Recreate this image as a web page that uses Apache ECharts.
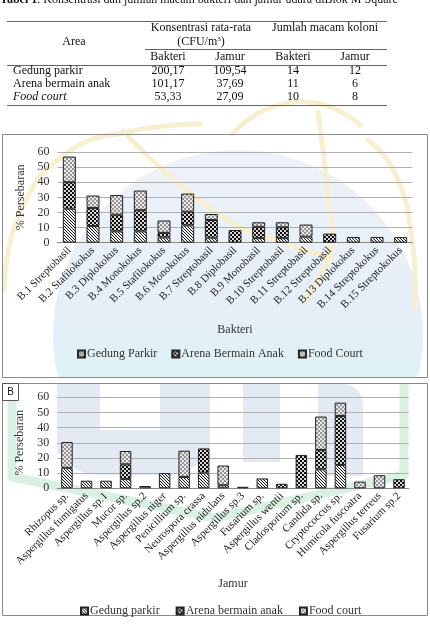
<!DOCTYPE html>
<html><head><meta charset="utf-8">
<script src="https://cdn.jsdelivr.net/npm/echarts@6/dist/echarts.min.js"></script>
<style>html,body{margin:0;padding:0;background:#fff}#c{width:430px;height:628px}</style>
</head><body><div id="c"></div>
<script>
// ---- Table data ----
const tableAreas = ['Gedung parkir', 'Arena bermain anak', 'Food court'];
const konsBakteri = ['200,17', '101,17', '53,33'];
const konsJamur = ['109,54', '37,69', '27,09'];
const jmlBakteri = ['14', '11', '10'];
const jmlJamur = ['12', '6', '8'];

// ---- Chart A (Bakteri) ----
const bakteriCats = ['B.1 Streptobasil','B.2 Stafilokokus','B.3 Diplokokus','B.4 Monokokus','B.5 Stafilokokus','B.6 Monokokus','B.7 Streptobasil','B.8 Diplobasil','B.9 Monobasil','B.10 Streptobasil','B.11 Streptobasil','B.12 Streptobasil','B.13 Diplokokus','B.14 Streptokokus','B.15 Streptokokus'];
const bakGedung = [22.5, 11, 7.5, 7.5, 3.5, 11.5, 3.3, 0, 3, 3, 4, 0, 3.8, 3.8, 3.7];
const bakArena  = [17.5, 12, 11, 14, 3, 9, 11.7, 8.4, 7.5, 7.2, 0, 6, 0, 0, 0];
const bakFood   = [17, 8.2, 13, 13, 8.2, 12, 4, 0, 3, 3.3, 8, 0, 0, 0, 0];

// ---- Chart B (Jamur) ----
const jamurCats = ['Rhizopus sp.','Aspergillus fumigatus','Aspergillus sp.1','Mucor sp.','Aspergillus sp.2','Aspergillus niger','Penicillium sp.','Neurospora crassa','Aspergillus nidulans','Aspergillus sp.3','Fusarium sp.','Aspergillus wentii','Cladosporium sp.','Candida sp.','Cryptococcus sp.','Humicola fuscoatra','Aspergillus terreus','Fusarium sp.2'];
const jamGedung = [13.5, 5, 5, 6.2, 1.5, 10, 7.5, 10.3, 2, 1, 6.5, 0, 0, 12.5, 15.4, 0, 0, 0];
const jamArena  = [0, 0, 0, 9.6, 0, 0, 0, 16, 0, 0, 0, 3, 22, 12.8, 32.3, 0, 0, 6];
const jamFood   = [17, 0, 0, 8.8, 0, 0, 17.3, 0, 13, 0, 0, 0, 0, 22, 8.8, 4.4, 8.6, 0];

const yTicks = [0, 10, 20, 30, 40, 50, 60];
const legendA = ['Gedung Parkir', 'Arena Bermain Anak', 'Food Court'];
const legendB = ['Gedung parkir', 'Arena bermain anak', 'Food court'];

const FONT = 'Liberation Serif';

function makePattern(kind) {
  const n = kind === 'hatch' ? 3 : 4;
  const c = document.createElement('canvas');
  c.width = n; c.height = n;
  const ctx = c.getContext('2d');
  const img = ctx.createImageData(n, n);
  for (let y = 0; y < n; y++) for (let x = 0; x < n; x++) {
    let v;
    if (kind === 'hatch') v = ((x - y + 30) % 3 === 0) ? 30 : 240;
    else if (kind === 'check') v = (((x >> 1) + (y >> 1)) % 2 === 0) ? 15 : 215;
    else v = (((x >> 1) + (y >> 1)) % 2 === 0) ? 150 : 232;
    const i = (y * n + x) * 4;
    img.data[i] = v; img.data[i + 1] = v; img.data[i + 2] = v; img.data[i + 3] = 255;
  }
  ctx.putImageData(img, 0, 0);
  return { image: c, repeat: 'repeat' };
}
const pHatch = makePattern('hatch');
const pCheck = makePattern('check');
const pDot = makePattern('dot');

const clean = arr => arr.map(v => v ? v : '-');

function barSeries(name, data, pat, xi, stack, bw) {
  return {
    type: 'bar', name, data: clean(data), stack, xAxisIndex: xi, yAxisIndex: xi,
    barWidth: bw, itemStyle: { color: pat, borderColor: '#222', borderWidth: 1 },
    emphasis: { disabled: true }, animation: false
  };
}

const g = [];

// ---- faint watermark (background decoration) ----
(function () {
  const pts = [];
  const cx = 238, cy = 335, r = 185;
  for (let i = 0; i <= 120; i++) {
    const t = i / 120 * Math.PI * 2;
    let x = cx + r * Math.cos(t), y = cy + r * Math.sin(t);
    y = Math.min(Math.max(y, 135), 377);
    x = Math.min(Math.max(x, 3), 427);
    pts.push([x, y]);
  }
  g.push({ type: 'polygon', z: -20, shape: { points: pts }, style: {
    fill: new echarts.graphic.LinearGradient(0, 0, 0, 1, [{ offset: 0, color: '#eef2f9' }, { offset: 0.75, color: '#e6eef7' }, { offset: 1, color: '#dcf3f4' }]) } });
  const yel = { fill: 'none', stroke: '#f6f0d0', lineWidth: 5, lineCap: 'round' };
  const arcs = [
    [[4, 290], [20, 213], [67, 153], [133, 131], [200, 124]],
    [[123, 131], [217, 213], [290, 245], [332, 257]],
    [[318, 112], [328, 197], [330, 250], [305, 300]],
    [[368, 140], [395, 173], [412, 240], [415, 307]],
    [[232, 134], [270, 108], [320, 104], [360, 125]]
  ];
  arcs.forEach(p => g.push({ type: 'polyline', z: -19, shape: { points: p, smooth: 0.5 }, style: yel }));
  // chart B letter blocks
  const blk = '#e4eaf3';
  g.push({ type: 'rect', z: -20, shape: { x: 57, y: 384, width: 43, height: 70 }, style: { fill: blk } });
  g.push({ type: 'rect', z: -20, shape: { x: 160, y: 384, width: 50, height: 70 }, style: { fill: blk } });
  g.push({ type: 'rect', z: -20, shape: { x: 57, y: 430, width: 153, height: 45, r: [0, 0, 40, 40] }, style: { fill: blk } });
  g.push({ type: 'rect', z: -20, shape: { x: 243, y: 384, width: 37, height: 78 }, style: { fill: blk } });
  g.push({ type: 'rect', z: -20, shape: { x: 318, y: 384, width: 45, height: 92, r: [0, 20, 0, 0] }, style: { fill: blk } });
  // green V band
  g.push({ type: 'polyline', z: -19, shape: { points: [[12, 400], [12, 477], [215, 518], [404, 475], [404, 384]] },
    style: { stroke: '#d9f0e3', lineWidth: 9, fill: 'none', lineJoin: 'round' } });
})();

// ---- table graphics ----
const colX = [168, 230, 293, 355];
const rowY = [71, 84, 97];
const txt = (x, y, t, opts) => g.push({ type: 'text', x, y, style: Object.assign({ text: t, font: '12px "' + FONT + '"', fill: '#111', align: 'center', verticalAlign: 'middle' }, opts || {}) });
const line = (x1, y1, x2, y2, w) => g.push({ type: 'line', shape: { x1, y1, x2, y2 }, style: { stroke: '#666', lineWidth: w || 1 } });

g.push({ type: 'text', x: 0, y: 0, style: { text: '{b|Tabel 1}. Konsentrasi dan jumlah macam bakteri dan jamur udara diBlok M Square', rich: { b: { fontWeight: 'bold', fontFamily: FONT, fontSize: 12 } }, fontFamily: FONT, fontSize: 12, fill: '#111', align: 'left', verticalAlign: 'middle' } });
line(7, 21.5, 387, 21.5);
line(145, 49.5, 387, 49.5);
line(7, 65.5, 387, 65.5);
line(7, 105.5, 387, 105.5);
txt(74, 42, 'Area');
txt(201, 28, 'Konsentrasi rata-rata');
g.push({ type: 'text', x: 201, y: 42, style: { text: '(CFU/m{s|3})', rich: { s: { fontSize: 7, verticalAlign: 'top', padding: [0, 0, 6, 0], fontFamily: FONT } }, fontFamily: FONT, fontSize: 12, fill: '#111', align: 'center', verticalAlign: 'middle' } });
txt(325, 28, 'Jumlah macam koloni');
txt(colX[0], 57, 'Bakteri'); txt(colX[1], 57, 'Jamur'); txt(colX[2], 57, 'Bakteri'); txt(colX[3], 57, 'Jamur');
tableAreas.forEach((a, i) => {
  txt(13, rowY[i], a, { align: 'left', font: (i === 2 ? 'italic ' : '') + '12px "' + FONT + '"' });
  txt(colX[0], rowY[i], konsBakteri[i]);
  txt(colX[1], rowY[i], konsJamur[i]);
  txt(colX[2], rowY[i], jmlBakteri[i]);
  txt(colX[3], rowY[i], jmlJamur[i]);
});

// frames
g.push({ type: 'rect', z: -15, shape: { x: 0, y: 378, width: 430, height: 5 }, style: { fill: '#fff' } });
g.push({ type: 'rect', shape: { x: 2.5, y: 134.5, width: 425, height: 243 }, style: { fill: 'none', stroke: '#8a8a8a', lineWidth: 1 }, z: -1 });
g.push({ type: 'rect', shape: { x: 2.5, y: 383.5, width: 425, height: 232 }, style: { fill: 'none', stroke: '#8a8a8a', lineWidth: 1 }, z: -1 });
g.push({ type: 'rect', shape: { x: 2.5, y: 383.5, width: 16, height: 17 }, style: { fill: '#fff', stroke: '#555', lineWidth: 1 }, z: 5 });
g.push({ type: 'text', x: 10.5, y: 392, z: 6, style: { text: 'B', font: '10px "Liberation Sans"', fill: '#111', align: 'center', verticalAlign: 'middle' } });

const yAxisCommon = (gi) => ({
  type: 'value', gridIndex: gi, min: yTicks[0], max: yTicks[yTicks.length - 1], interval: yTicks[1] - yTicks[0],
  name: '% Persebaran', nameLocation: 'middle', nameGap: 26, nameRotate: 90,
  nameTextStyle: { fontFamily: FONT, fontSize: 12, color: '#333' },
  axisLabel: { fontFamily: FONT, fontSize: 12, color: '#333', margin: 8 },
  axisLine: { show: false }, axisTick: { show: false },
  splitLine: { lineStyle: { color: '#b0b0b0', width: 1 } }
});
const xAxisCommon = (gi, cats, name, gap) => ({
  type: 'category', gridIndex: gi, data: cats,
  name, nameLocation: 'middle', nameGap: gap,
  nameTextStyle: { fontFamily: FONT, fontSize: 12, color: '#333' },
  axisLabel: { interval: 0, rotate: 45, fontFamily: FONT, fontSize: 11, color: '#222', margin: 6 },
  axisLine: { lineStyle: { color: '#888' } }, axisTick: { show: false }
});

const chart = echarts.init(document.getElementById('c'), null, { renderer: 'canvas' });
chart.setOption({
  animation: false,
  textStyle: { fontFamily: FONT },
  graphic: g,
  grid: [
    { left: 57.5, right: 17.5, top: 152, height: 90.7 },
    { left: 57.2, right: 21.2, top: 397.3, height: 91 }
  ],
  legend: [
    { data: legendA, left: 72, top: 343, icon: 'rect', itemWidth: 7, itemHeight: 7, itemGap: 14,
      textStyle: { fontFamily: FONT, fontSize: 12, color: '#333', padding: [0, 0, 0, -3] } },
    { data: legendB, left: 75, top: 600, icon: 'rect', itemWidth: 7, itemHeight: 7, itemGap: 16,
      textStyle: { fontFamily: FONT, fontSize: 12, color: '#333', padding: [0, 0, 0, -3] } }
  ],
  xAxis: [xAxisCommon(0, bakteriCats, 'Bakteri', 81), xAxisCommon(1, jamurCats, 'Jamur', 90)],
  yAxis: [yAxisCommon(0), yAxisCommon(1)],
  series: [
    barSeries(legendA[0], bakGedung, pHatch, 0, 'a', 13),
    barSeries(legendA[1], bakArena, pCheck, 0, 'a', 13),
    barSeries(legendA[2], bakFood, pDot, 0, 'a', 13),
    barSeries(legendB[0], jamGedung, pHatch, 1, 'b', 11.5),
    barSeries(legendB[1], jamArena, pCheck, 1, 'b', 11.5),
    barSeries(legendB[2], jamFood, pDot, 1, 'b', 11.5)
  ]
});
</script></body></html>
